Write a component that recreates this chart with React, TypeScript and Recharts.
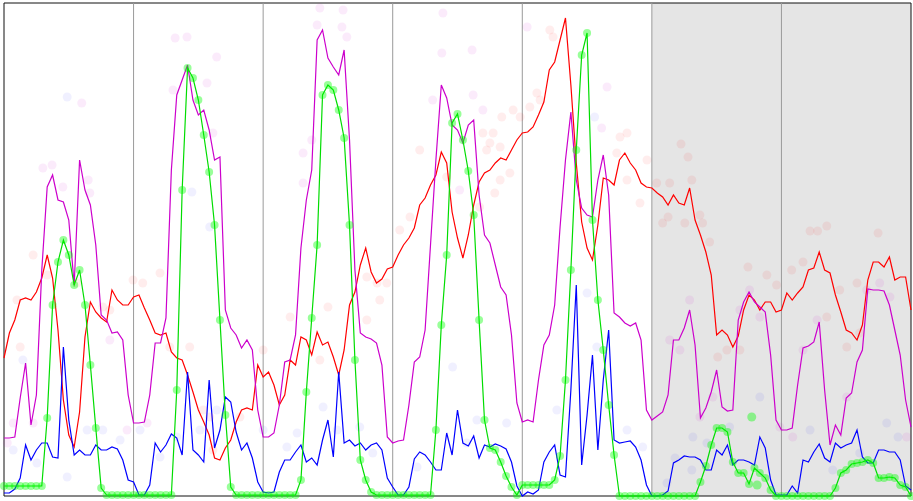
import { ComposedChart, Line, Scatter, XAxis, YAxis, ReferenceArea, ReferenceLine } from "recharts";

// one reading per hour over a week (169 points)
const red = [
  27.6, 32.6, 35.2, 39.2, 39.6, 39.2, 40.8, 43.6, 48.2, 43.6, 33.2, 19.2, 12.2, 9.8, 16.8, 31.8, 38.8, 36.8, 35.6, 34.8, 41.2, 39.2, 38.2, 38.2,
  39.8, 40.2, 37.6, 35.2, 32.6, 32.2, 32.6, 28.8, 27.6, 27.2, 24.2, 20.8, 17.2, 14.8, 12.2, 7.6, 7.2, 9.6, 11.2, 14.8, 17.2, 17.6, 17.2, 26.2,
  23.8, 24.8, 22.2, 18.2, 20.2, 27.2, 26.2, 31.8, 31.2, 28.2, 32.8, 30.2, 30.8, 27.8, 24.2, 29.2, 38.2, 40.8, 46.2, 49.6, 44.8, 42.6, 43.4, 45.4,
  45.8, 48.2, 50.2, 51.6, 53.6, 58.2, 59.6, 62.2, 64.2, 68.8, 66.6, 56.8, 51.6, 47.6, 52.2, 58.2, 62.8, 64.6, 65.2, 66.6, 67.6, 67.2, 69.2, 71.2,
  72.6, 72.8, 73.8, 76.2, 78.8, 85.2, 86.8, 91.2, 95.6, 82.2, 66.6, 54.8, 49.6, 47.2, 54.2, 63.6, 63.2, 62.2, 67.2, 68.6, 66.6, 65.2, 62.6, 61.8,
  61.6, 60.6, 59.8, 58.2, 60.2, 58.6, 58.2, 61.6, 55.2, 52.2, 48.8, 44.2, 32.2, 33.2, 32.2, 29.8, 32.0, 37.2, 40.2, 39.2, 37.2, 38.8, 38.8, 36.8,
  37.2, 40.6, 39.2, 40.6, 41.8, 45.2, 45.6, 48.8, 45.2, 44.6, 40.2, 36.8, 33.2, 32.6, 31.2, 34.2, 43.2, 46.8, 46.8, 45.8, 47.8, 43.2, 43.8, 43.8,
  37.2,
];

const magenta = [
  11.6, 11.6, 11.8, 19.6, 26.6, 14.2, 20.2, 45.2, 61.8, 64.2, 59.2, 58.8, 55.2, 42.2, 67.2, 61.2, 58.2, 50.2, 36.2, 35.2, 32.6, 32.8, 31.2, 20.2,
  14.6, 14.6, 14.8, 20.2, 30.6, 30.6, 35.6, 65.2, 80.2, 83.2, 86.2, 79.2, 76.2, 77.2, 73.2, 67.2, 67.8, 37.2, 33.6, 32.2, 29.6, 31.2, 29.2, 17.2,
  11.8, 11.8, 12.6, 18.2, 26.8, 27.2, 32.2, 49.6, 59.2, 65.2, 91.2, 93.2, 87.6, 85.8, 84.2, 89.2, 71.2, 45.2, 32.6, 31.8, 31.4, 30.6, 26.2, 11.8,
  10.6, 11.0, 11.2, 18.2, 26.8, 27.8, 33.2, 50.2, 67.2, 82.2, 79.6, 74.2, 73.2, 70.6, 74.2, 75.2, 60.2, 52.2, 50.6, 46.2, 41.8, 40.2, 32.2, 18.6,
  14.8, 15.2, 14.8, 23.2, 30.2, 32.2, 38.2, 53.8, 67.2, 76.8, 63.2, 57.6, 56.2, 55.8, 63.2, 68.2, 60.2, 36.6, 35.8, 34.6, 34.0, 34.6, 31.2, 17.2,
  15.2, 16.0, 16.8, 20.2, 31.2, 31.2, 33.6, 37.2, 30.2, 15.6, 17.6, 20.8, 25.2, 17.8, 17.0, 17.2, 35.2, 38.8, 40.8, 38.8, 37.8, 36.8, 28.2, 15.2,
  13.2, 13.2, 13.6, 22.2, 29.6, 30.0, 30.8, 34.8, 21.2, 10.2, 14.2, 12.2, 19.6, 20.6, 26.8, 29.2, 41.4, 41.2, 41.2, 41.0, 38.2, 33.2, 28.2, 19.2,
  13.8,
];

const blue = [
  0.6, 0.6, 1.4, 3.6, 10.2, 7.2, 9.2, 10.6, 10.6, 7.8, 7.6, 29.8, 15.2, 8.2, 9.2, 8.2, 8.2, 10.2, 9.2, 9.2, 9.8, 9.4, 7.2, 3.2,
  2.8, 0.2, 0.2, 2.2, 10.6, 8.8, 10.2, 12.4, 11.6, 8.2, 24.8, 9.2, 8.2, 6.8, 23.2, 9.6, 13.2, 19.8, 18.8, 12.8, 9.2, 10.6, 7.6, 2.8,
  0.8, 0.6, 0.8, 4.8, 7.2, 7.2, 8.8, 10.2, 6.8, 7.6, 6.2, 11.2, 15.2, 7.8, 24.8, 10.6, 11.2, 10.0, 10.6, 9.2, 10.2, 10.6, 9.2, 3.6,
  1.8, 0.2, 0.2, 1.8, 7.4, 8.8, 8.2, 6.8, 5.2, 5.2, 12.6, 8.2, 17.2, 10.6, 10.0, 12.0, 7.6, 10.2, 9.8, 10.4, 10.0, 9.4, 6.8, 2.0,
  0.0, 0.8, 0.4, 1.2, 6.8, 8.8, 10.2, 4.2, 3.8, 21.2, 42.2, 6.2, 16.2, 28.2, 9.2, 23.2, 33.2, 11.2, 10.6, 10.8, 11.0, 9.8, 7.2, 2.2,
  0.0, 0.0, 0.2, 1.0, 6.6, 7.2, 8.0, 7.8, 7.8, 7.2, 5.2, 5.2, 9.2, 8.2, 10.2, 6.2, 7.2, 7.2, 6.8, 6.2, 11.8, 9.6, 3.2, 0.2,
  0.2, 0.2, 2.0, 0.6, 7.2, 6.8, 8.8, 10.4, 7.6, 6.8, 10.6, 9.6, 10.2, 10.6, 13.2, 7.8, 6.6, 6.6, 9.2, 9.2, 8.8, 8.8, 7.2, 2.0,
  1.2,
];

const green = [
  2.0, 2.0, 2.0, 2.0, 2.0, 2.0, 2.0, 2.0, 15.6, 38.2, 46.8, 51.2, 48.2, 42.2, 45.2, 38.2, 26.2, 13.6, 1.6, 0.2, 0.2, 0.2, 0.2, 0.2,
  0.2, 0.2, 0.2, 0.2, 0.2, 0.2, 0.2, 0.2, 21.2, 61.2, 85.6, 83.6, 79.2, 72.2, 64.8, 54.2, 35.2, 16.2, 1.8, 0.2, 0.2, 0.2, 0.2, 0.2,
  0.2, 0.2, 0.2, 0.2, 0.2, 0.2, 0.2, 3.2, 20.8, 35.6, 50.2, 80.2, 82.2, 81.2, 77.2, 71.6, 54.2, 27.2, 7.2, 3.2, 0.8, 0.2, 0.2, 0.2,
  0.2, 0.2, 0.2, 0.2, 0.2, 0.2, 0.2, 0.2, 13.2, 34.2, 48.2, 74.6, 76.4, 71.2, 65.0, 56.2, 35.2, 15.2, 9.6, 9.2, 6.8, 4.0, 1.8, 0.2,
  2.2, 2.2, 2.2, 2.2, 2.2, 2.2, 3.2, 8.0, 23.2, 45.2, 69.2, 88.2, 92.6, 55.2, 39.2, 29.2, 18.2, 8.2, 0.0, 0.0, 0.0, 0.0, 0.0, 0.0,
  0.0, 0.0, 0.0, 0.0, 0.0, 0.0, 0.0, 0.0, 0.0, 2.8, 6.0, 10.2, 13.6, 13.6, 12.8, 6.8, 4.6, 4.6, 2.4, 5.6, 4.6, 3.6, 1.2, 0.0,
  0.0, 0.0, 0.0, 0.0, 0.0, 0.0, 0.0, 0.0, 0.0, 0.0, 1.6, 4.6, 5.2, 6.4, 6.6, 6.8, 7.2, 6.6, 3.6, 3.6, 3.8, 3.6, 2.2, 1.8,
  0.0,
];

// faint raw observations [hour, value]
const redRaw = [
  [2.4, 39.2], [3, 29.8], [5.4, 48.2], [8, 44.2], [13.5, 42.6], [18.3, 37.8], [19.6, 37.2], [23.9, 43.2], [25.7, 42.6], [28.9, 44.6],
  [30.7, 29.8], [34.4, 29.8], [36.9, 17.2], [38.1, 15.8], [38.7, 9.2], [43.7, 15.8], [48, 29.2], [53, 35.8], [58.5, 27.2], [60, 37.8],
  [67.2, 43.8], [69.1, 42.6], [70.9, 42.6], [69.6, 39.2], [67.2, 35.2], [77, 69.2], [73.3, 53.2], [75.2, 55.8], [82, 63.8], [88.7, 72.6],
  [90, 70.6], [91.9, 63.2], [90.9, 60.6], [93.7, 64.6], [88.1, 57.8], [101.1, 93.2], [101.7, 91.8], [98.7, 80.6], [99.3, 79.2], [94.3, 77.2],
  [97.4, 77.8], [95.6, 75.8], [92.2, 75.8], [90.6, 72.6], [89.4, 69.2], [91.9, 69.8], [115.4, 72.6], [114.1, 71.8], [113.5, 68.6], [119.1, 67.2],
  [115.4, 63.2], [117.8, 58.6], [120.9, 62.6], [122, 54.6], [125.4, 70.4], [126.7, 67.8], [127.4, 63.2], [123.3, 62.6], [128.9, 56.2], [129.4, 54.6],
  [123, 55.8], [126.1, 54.6], [130.7, 50.8], [149.3, 53], [150.7, 53], [152.4, 54], [161.9, 52.6], [137.8, 45.8], [141.3, 44.2], [143.1, 42.2],
  [145.9, 45.2], [148, 46.8], [154.8, 41.2], [158, 42.6], [136.3, 29.2], [133.9, 29.2], [132.2, 27.8], [152.4, 35.8], [156.1, 29.8], [158.5, 32.6],
];

const magentaRaw = [
  [7.2, 65.6], [8.9, 66.2], [10.9, 61.8], [14.4, 78.6], [15.6, 63.2], [15.9, 60.6], [31.7, 91.6], [33.9, 91.8], [39.4, 87.8], [37.6, 82.6],
  [38.7, 72.6], [31.3, 81.2], [58.5, 97.6], [62.8, 97.2], [58, 94.2], [62.6, 93.8], [63.5, 91.8], [55.4, 68.6], [55.4, 62.6], [57, 71.2],
  [79.4, 79.2], [81.1, 88.6], [81.3, 96.6], [86.7, 89.2], [86.9, 80.2], [88.7, 77.2], [84.4, 61.2], [110.7, 73.6], [111.7, 81.8], [96.9, 93.8],
  [1.7, 14.6], [0.6, 10.6], [5.4, 14.6], [19.6, 31.2], [22.8, 13.2], [26.5, 14.6], [123.3, 31.2], [125.2, 29.2], [127, 39.2], [128.9, 15.8],
  [131.3, 19.8], [136.3, 37.2], [138.1, 41.2], [140, 35.8], [143.7, 13.8], [146.1, 11.8], [148, 29.2], [150.6, 35.2], [156.1, 19.8], [159.8, 41.2],
  [162.2, 42.6], [164.1, 39.8], [167.2, 11.8],
];

const blueRaw = [
  [124.3, 7.6], [127.4, 5.2], [130.2, 10.6], [140, 19.8], [134.4, 13.8], [163.5, 14.6], [165.6, 11.8], [127.6, 11.8], [122.8, 2.6], [149.3, 13.2],
  [153.5, 5.2], [158.5, 8.6], [3.5, 27.2], [1.7, 9.2], [6.1, 6.6], [11.7, 3.8], [15.4, 13.2], [18.3, 13.2], [21.5, 11.2], [25.2, 13.2],
  [28.9, 7.8], [32, 11.8], [36.3, 13.2], [39.4, 17.2], [11.7, 79.8], [34.8, 60.8], [38.1, 53.8], [48, 13.2], [52.4, 9.8], [54.3, 12.6],
  [59.1, 17.8], [61.7, 13.2], [65.9, 13.8], [68.3, 8.6], [76.5, 5.8], [83.1, 25.8], [87.6, 15.2], [85.7, 10.6], [93.1, 14.6], [102.4, 17.2],
  [108, 40.6], [109.8, 29.8], [115.4, 13.2], [118.3, 9.8], [109.4, 75.8],
];

const greenRaw = [[138.5, 15.8], [139.5, 2.2]];

const hours = red.map((_, i) => i);
const dayBreaks = [24, 48, 72, 96, 120, 144];
const weekend = [120, 168];
const yMax = 98.6;

const data = hours.map((h, i) => ({
  h,
  red: red[i],
  magenta: magenta[i],
  blue: blue[i],
  green: green[i],
}));

const toPoints = (rows: number[][]) => rows.map(([h, v]) => ({ h, v }));

const dotShape = (color: string, opacity: number) => (props: any) => (
  <circle cx={props.cx} cy={props.cy} r={4.5} fill={color} fillOpacity={opacity} stroke="none" />
);

export default function App() {
  return (
    <div style={{ position: "absolute", left: 0, top: 0, background: "#fff" }}>
      <ComposedChart
        width={913}
        height={501}
        data={data}
        margin={{ top: 3, right: 2, bottom: 5, left: 4 }}
      >
        <XAxis dataKey="h" type="number" domain={[0, 168]} hide />
        <YAxis type="number" domain={[0, yMax]} hide />
        <ReferenceArea x1={weekend[0]} x2={weekend[1]} y1={0} y2={yMax} fill="#e5e5e5" fillOpacity={1} stroke="none" />
        {dayBreaks.map((d) => (
          <ReferenceLine key={d} x={d} stroke="#9a9a9a" strokeWidth={1} />
        ))}
        <Scatter data={toPoints(redRaw)} dataKey="v" shape={dotShape("#ff0000", 0.07)} isAnimationActive={false} />
        <Scatter data={toPoints(magentaRaw)} dataKey="v" shape={dotShape("#cc00cc", 0.08)} isAnimationActive={false} />
        <Scatter data={toPoints(blueRaw)} dataKey="v" shape={dotShape("#0000ff", 0.06)} isAnimationActive={false} />
        <Scatter data={toPoints(greenRaw)} dataKey="v" shape={dotShape("#00ff00", 0.4)} isAnimationActive={false} />
        <Line type="linear" dataKey="red" stroke="#ff0000" strokeWidth={1.2} dot={false} isAnimationActive={false} />
        <Line type="linear" dataKey="magenta" stroke="#cc00cc" strokeWidth={1.2} dot={false} isAnimationActive={false} />
        <Line type="linear" dataKey="blue" stroke="#0000ff" strokeWidth={1.2} dot={false} isAnimationActive={false} />
        <Line
          type="linear"
          dataKey="green"
          stroke="#00dd00"
          strokeWidth={1.2}
          dot={{ r: 4, fill: "#00ff00", fillOpacity: 0.4, stroke: "none" }}
          activeDot={false}
          isAnimationActive={false}
        />
        <ReferenceArea x1={0} x2={168} y1={0} y2={yMax} fill="none" stroke="#111" strokeWidth={1} />
      </ComposedChart>
    </div>
  );
}
